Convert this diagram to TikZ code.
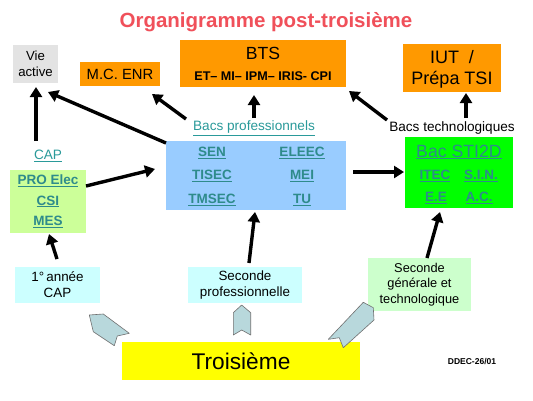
\documentclass[tikz,border=0pt]{standalone}
\usepackage{fontspec}
\setmainfont{Liberation Sans}
\usetikzlibrary{arrows.meta}
\definecolor{orangeB}{HTML}{FF9900}
\definecolor{grayB}{HTML}{E3E3E3}
\definecolor{blueB}{HTML}{99CCFF}
\definecolor{greenB}{HTML}{00FF00}
\definecolor{capB}{HTML}{CCFF99}
\definecolor{cyanB}{HTML}{CCFFFF}
\definecolor{mintB}{HTML}{CCFFCC}
\definecolor{yellowB}{HTML}{FFFF00}
\definecolor{linkC}{HTML}{2A9A9A}
\definecolor{linkD}{HTML}{2E8B8B}
\definecolor{titleC}{HTML}{F0505A}
\definecolor{chevF}{HTML}{B8D8DC}
\definecolor{chevD}{HTML}{707070}
\newcommand{\fs}[1]{\fontsize{#1}{#1}\selectfont}
\newcommand{\lnk}[1]{\underline{#1}}
\tikzset{
  box/.style={inner sep=0pt, align=center},
  lbl/.style={inner sep=0pt, align=center},
  arr/.style={line width=3.4pt, -{Triangle[length=10pt,width=12pt]}},
  chev/.style={fill=chevF, draw=chevD, line width=0.6pt, line join=round},
  bl/.style={lbl, text=linkD, font=\bfseries\fs{13.5}},
}
\begin{document}
\begin{tikzpicture}[x=1pt,y=-1pt]
\useasboundingbox[fill=white] (0,0) rectangle (533,400);

% title
\node[lbl, text=titleC, font=\bfseries\fs{20.5}] (title) at (266,22) {Organigramme post-troisième};

% top row
\node[box, fill=grayB, minimum width=45pt, minimum height=38pt, font=\fs{13.2}] (vie) at (35.5,64) {Vie\\[2.5pt]active};
\node[box, fill=orangeB, minimum width=80pt, minimum height=24pt, font=\fs{14.8}] (mc) at (120,74) {M.C. ENR};
\node[box, fill=orangeB, minimum width=166pt, minimum height=47pt] (bts) at (263,63.5) {};
\node[lbl, font=\fs{17.6}] (btst) at (263,53) {BTS};
\node[lbl, font=\bfseries\fs{12.6}] (btsl) at (263,76) {ET– MI– IPM– IRIS- CPI};
\node[box, fill=orangeB, minimum width=98pt, minimum height=48pt] (iut) at (452,68) {};
\node[lbl, font=\fs{18}] (iut1) at (452,57) {IUT~~/};
\node[lbl, font=\fs{18}] (iut2) at (452,80) {Prépa TSI};

% labels
\node[lbl, text=linkC, font=\fs{13.6}] (bpro) at (254,128) {\lnk{Bacs professionnels}};
\node[lbl, font=\fs{13.6}] (btech) at (452,128) {Bacs technologiques};
\node[lbl, text=linkC, font=\fs{13.6}] (capl) at (48,156) {\lnk{CAP}};

% CAP box
\node[box, fill=capB, minimum width=76pt, minimum height=63pt] (cap) at (48,201.5) {};
\node[bl] (c1) at (48,181) {\lnk{PRO Elec}};
\node[bl] (c2) at (48,201.5) {\lnk{CSI}};
\node[bl] (c3) at (48,222) {\lnk{MES}};

% Bacs pro box
\node[box, fill=blueB, minimum width=180pt, minimum height=69pt] (bp) at (256,175.5) {};
\node[bl] (p1) at (212,153) {\lnk{SEN}};
\node[bl] (p2) at (212,176) {\lnk{TISEC}};
\node[bl] (p3) at (212,200) {\lnk{TMSEC}};
\node[bl] (p4) at (302,153) {\lnk{ELEEC}};
\node[bl] (p5) at (302,176) {\lnk{MEI}};
\node[bl] (p6) at (302,200) {\lnk{TU}};

% STI2D box
\node[box, fill=greenB, minimum width=108pt, minimum height=71pt] (sti) at (459,172.5) {};
\node[lbl, text=linkD, font=\fs{17.7}] (s0) at (459,152) {\lnk{Bac STI2D}};
\node[bl] (s1) at (435,176) {\lnk{ITEC}};
\node[bl] (s2) at (481,176) {\lnk{S.I.N.}};
\node[bl] (s3) at (436,198) {\lnk{E.E}};
\node[bl] (s4) at (479,198) {\lnk{A.C.}};

% bottom boxes
\node[box, fill=cyanB, minimum width=85pt, minimum height=36pt, font=\fs{13.4}] (an1) at (57.5,285) {1°\,année\\[2.5pt]CAP};
\node[box, fill=cyanB, minimum width=114pt, minimum height=36pt, font=\fs{13.4}] (sp) at (245,285) {Seconde\\[2.5pt]professionnelle};
\node[box, fill=mintB, minimum width=103pt, minimum height=53pt, font=\fs{12.8}] (sg) at (419.5,284.5) {Seconde\\[3pt]générale et\\[3pt]technologique};
\node[box, fill=yellowB, minimum width=238pt, minimum height=38pt, font=\fs{22.7}] (tr) at (241,361) {Troisième};
\node[lbl, font=\bfseries\fs{8.5}] (ddec) at (472,361) {DDEC-26/01};

% arrow coordinates
\coordinate (a1s) at (36,141); \coordinate (a1e) at (36,87);
\coordinate (a2s) at (166,143); \coordinate (a2e) at (48,92);
\coordinate (a3s) at (186,119); \coordinate (a3e) at (152,94);
\coordinate (a4s) at (254,118); \coordinate (a4e) at (254,95);
\coordinate (a5s) at (387,120); \coordinate (a5e) at (349,91);
\coordinate (a6s) at (466,118); \coordinate (a6e) at (466,93);
\coordinate (a7s) at (86,186); \coordinate (a7e) at (155,169);
\coordinate (a8s) at (353,172); \coordinate (a8e) at (404,172);
\coordinate (a9s) at (57,259); \coordinate (a9e) at (49,234);
\coordinate (a10s) at (249,263); \coordinate (a10e) at (255,212);
\coordinate (a11s) at (427,258); \coordinate (a11e) at (440,212);

\draw[arr] (a1s) -- (a1e);
\draw[arr] (a2s) -- (a2e);
\draw[arr] (a3s) -- (a3e);
\draw[arr] (a4s) -- (a4e);
\draw[arr] (a5s) -- (a5e);
\draw[arr] (a6s) -- (a6e);
\draw[arr] (a7s) -- (a7e);
\draw[arr] (a8s) -- (a8e);
\draw[arr] (a9s) -- (a9e);
\draw[arr] (a10s) -- (a10e);
\draw[arr] (a11s) -- (a11e);

% chevrons
\draw[chev] (89.3,315) -- (103.3,314) -- (129.3,333.3) -- (117.3,336) -- (114.3,345.7) -- (93.3,331.7) -- cycle;
\draw[chev] (241.7,305) -- (250.7,312.7) -- (250.7,335) -- (241.7,330) -- (233.3,335) -- (233.3,312.7) -- cycle;
\draw[chev] (363.3,302.3) -- (373.3,307.7) -- (374,320) -- (343.3,347.7) -- (339.3,337.7) -- (328.3,339.3) -- cycle;
\end{tikzpicture}
\end{document}
